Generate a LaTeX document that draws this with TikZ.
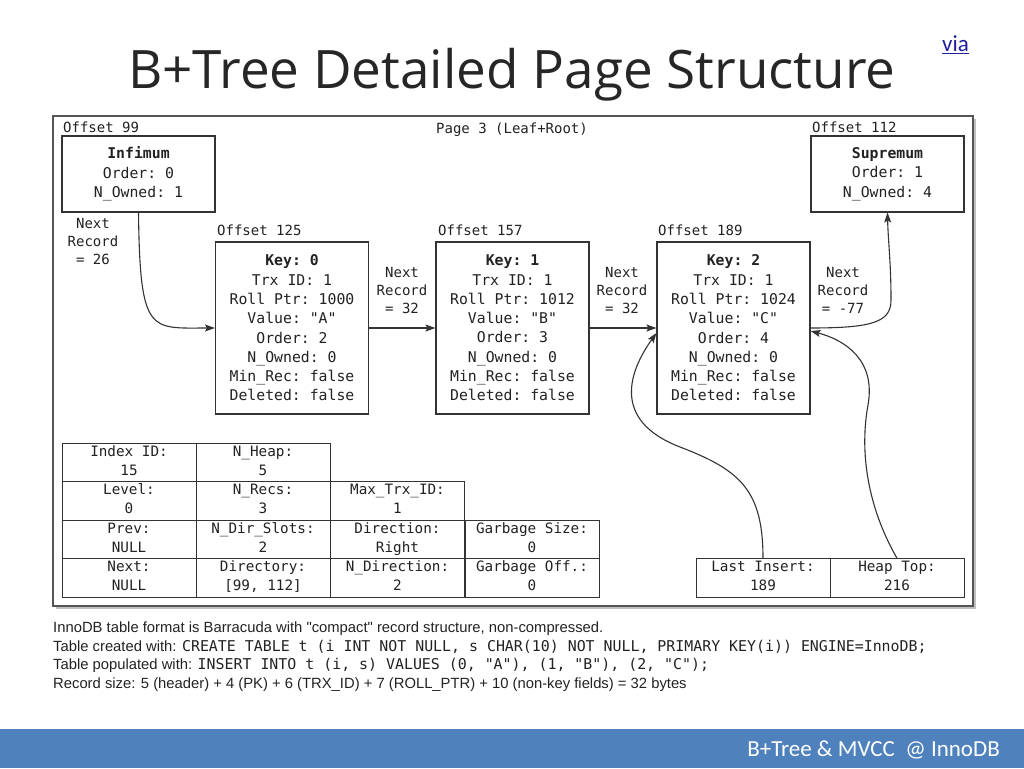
\documentclass[tikz,border=0pt]{standalone}
\usepackage{fontspec}
\setmainfont{Liberation Sans}
\setmonofont{DejaVu Sans Mono}
\newfontfamily\titlefont{Open Sans}
\newfontfamily\slidefont{Carlito}
\usetikzlibrary{arrows.meta, positioning, shadows}

\definecolor{linec}{HTML}{333333}
\definecolor{textc}{HTML}{222222}
\definecolor{framec}{HTML}{555555}
\definecolor{titlec}{HTML}{262626}
\definecolor{barblue}{HTML}{4F81BD}
\definecolor{linkblue}{HTML}{1F1F9F}

\newcommand{\sqlcode}[1]{{\fontsize{14.9}{18}\selectfont\ttfamily #1}}

\begin{document}
\begin{tikzpicture}[
    x=1pt, y=-1pt,
    >={Stealth[length=10pt, width=7pt, inset=2pt]},
    recbox/.style={draw=linec, line width=1.1pt, minimum width=153pt,
                   minimum height=172pt, align=center, inner sep=0pt,
                   text=textc, font=\fontsize{14.8}{19.3}\selectfont\ttfamily},
    endbox/.style={recbox, minimum height=76pt},
    offlbl/.style={inner sep=0pt, text=textc,
                   font=\fontsize{14}{18}\selectfont\ttfamily},
    nextlbl/.style={offlbl, align=center},
    cell/.style={draw=linec, line width=1pt, minimum width=134pt,
                 minimum height=38.5pt, align=center, inner sep=0pt,
                 text=textc, font=\fontsize{14.3}{19}\selectfont\ttfamily,
                 execute at begin node={\rule{0pt}{15pt}},
                 execute at end node={\rule[-4pt]{0pt}{4pt}}},
    conn/.style={draw=linec, line width=1.1pt},
    note/.style={inner sep=0pt, anchor=base west, text=textc,
                 font=\fontsize{14.8}{18}\selectfont}
  ]
  \useasboundingbox (0,0) rectangle (1024,768);

  % Title and link
  \node[anchor=base west, inner sep=0pt, text=titlec,
        font=\titlefont\fontsize{53}{60}\selectfont] (title) at (128,88)
    {B+Tree Detailed Page Structure};
  \node[anchor=base, inner sep=0pt, text=linkblue,
        font=\slidefont\fontsize{23}{27}\selectfont] (via) at (955.5,52)
    {\underline{via}};

  % Page frame
  \draw[draw=framec, line width=1.2pt, fill=white,
        drop shadow={shadow xshift=3pt, shadow yshift=-3pt, opacity=0.5}]
    (53,116) rectangle (973,606);
  \node[offlbl, anchor=base] (pagelbl) at (512,133) {Page 3 (Leaf+Root)};

  % Infimum and supremum
  \node[offlbl, anchor=base west] (o99) at (63,132.5) {Offset 99};
  \node[endbox] (inf) at (138.5,174) {\textbf{Infimum}\\Order: 0\\N\_Owned: 1};
  \node[offlbl, anchor=base west] (o112) at (812,132.5) {Offset 112};
  \node[endbox] (sup) at (887.5,174) {\textbf{Supremum}\\Order: 1\\N\_Owned: 4};

  % User records
  \node[offlbl, anchor=base west] (o125) at (217,235) {Offset 125};
  \node[recbox] (k0) at (292,328)
    {\textbf{Key: 0}\\Trx ID: 1\\Roll Ptr: 1000\\Value: "A"\\Order: 2\\N\_Owned: 0\\Min\_Rec: false\\Deleted: false};
  \node[offlbl, anchor=base west] (o157) at (438,235) {Offset 157};
  \node[recbox] (k1) at (512.5,328)
    {\textbf{Key: 1}\\Trx ID: 1\\Roll Ptr: 1012\\Value: "B"\\Order: 3\\N\_Owned: 0\\Min\_Rec: false\\Deleted: false};
  \node[offlbl, anchor=base west] (o189) at (658,235) {Offset 189};
  \node[recbox] (k2) at (733.5,328)
    {\textbf{Key: 2}\\Trx ID: 1\\Roll Ptr: 1024\\Value: "C"\\Order: 4\\N\_Owned: 0\\Min\_Rec: false\\Deleted: false};

  % Next record offsets
  \node[nextlbl] (nr0) at (93,241.5) {Next\\Record\\= 26};
  \node[nextlbl] (nr1) at (402,290) {Next\\Record\\= 32};
  \node[nextlbl] (nr2) at (622,290) {Next\\Record\\= 32};
  \node[nextlbl] (nr3) at (843,290) {Next\\Record\\= -77};

  % Page header fields
  \node[cell] (idx) at (129,462.5) {Index ID:\\15};
  \node[cell] (nheap) at (263,462.5) {N\_Heap:\\5};
  \node[cell] (lvl) at (129,501) {Level:\\0};
  \node[cell] (nrecs) at (263,501) {N\_Recs:\\3};
  \node[cell] (maxtrx) at (397.5,501) {Max\_Trx\_ID:\\1};
  \node[cell] (prev) at (129,539.5) {Prev:\\NULL};
  \node[cell] (ndir) at (263,539.5) {N\_Dir\_Slots:\\2};
  \node[cell] (dirn) at (397.5,539.5) {Direction:\\Right};
  \node[cell] (gsize) at (532,539.5) {Garbage Size:\\0};
  \node[cell] (nextp) at (129,578) {Next:\\NULL};
  \node[cell] (dirs) at (263,578) {Directory:\\{[99, 112]}};
  \node[cell] (ndirn) at (397.5,578) {N\_Direction:\\2};
  \node[cell] (goff) at (532,578) {Garbage Off.:\\0};
  \node[cell] (li) at (763,578) {Last Insert:\\189};
  \node[cell] (ht) at (897,578) {Heap Top:\\216};

  % Record chain
  \draw[conn, ->] (inf.south) .. controls (140,335) and (150,328) .. (k0.west);
  \draw[conn, ->] (k0.east) -- (k1.west);
  \draw[conn, ->] (k1.east) -- (k2.west);
  \draw[conn, ->] (k2.east) .. controls (873,328) and (891,322) .. (891,300)
    .. controls (891,262) and (888,240) .. (sup.south);

  % Header pointers
  \draw[conn, ->] (li.north) .. controls (763,490) and (740,470) .. (680,447)
    .. controls (610,420) and (630,370) .. ([yshift=-5pt]k2.west);
  \draw[conn, ->] (ht.north) .. controls (872,515) and (858,460) .. (868,405)
    .. controls (876,360) and (845,340) .. ([yshift=-3pt]k2.east);

  % Notes below the page
  \node[note] (n1) at (53,632.5)
    {InnoDB table format is Barracuda with \textquotedbl compact\textquotedbl\ record structure, non-compressed.};
  \node[note] (n2) at (53,651)
    {Table created with: \sqlcode{CREATE TABLE t (i INT NOT NULL, s CHAR(10) NOT NULL, PRIMARY KEY(i)) ENGINE=InnoDB;}};
  \node[note] (n3) at (53,669.5)
    {Table populated with: \sqlcode{INSERT INTO t (i, s) VALUES (0, "A"), (1, "B"), (2, "C");}};
  \node[note] (n4) at (53,688)
    {Record size: 5 (header) + 4 (PK) + 6 (TRX\_ID) + 7 (ROLL\_PTR) + 10 (non-key fields) = 32 bytes};

  % Footer bar
  \fill[barblue] (0,729) rectangle (1024,768);
  \node[anchor=base east, inner sep=0pt, text=white,
        font=\slidefont\fontsize{23}{27}\selectfont] (foot) at (1000,756)
    {B+Tree \& MVCC\ \ @ InnoDB};
\end{tikzpicture}
\end{document}
